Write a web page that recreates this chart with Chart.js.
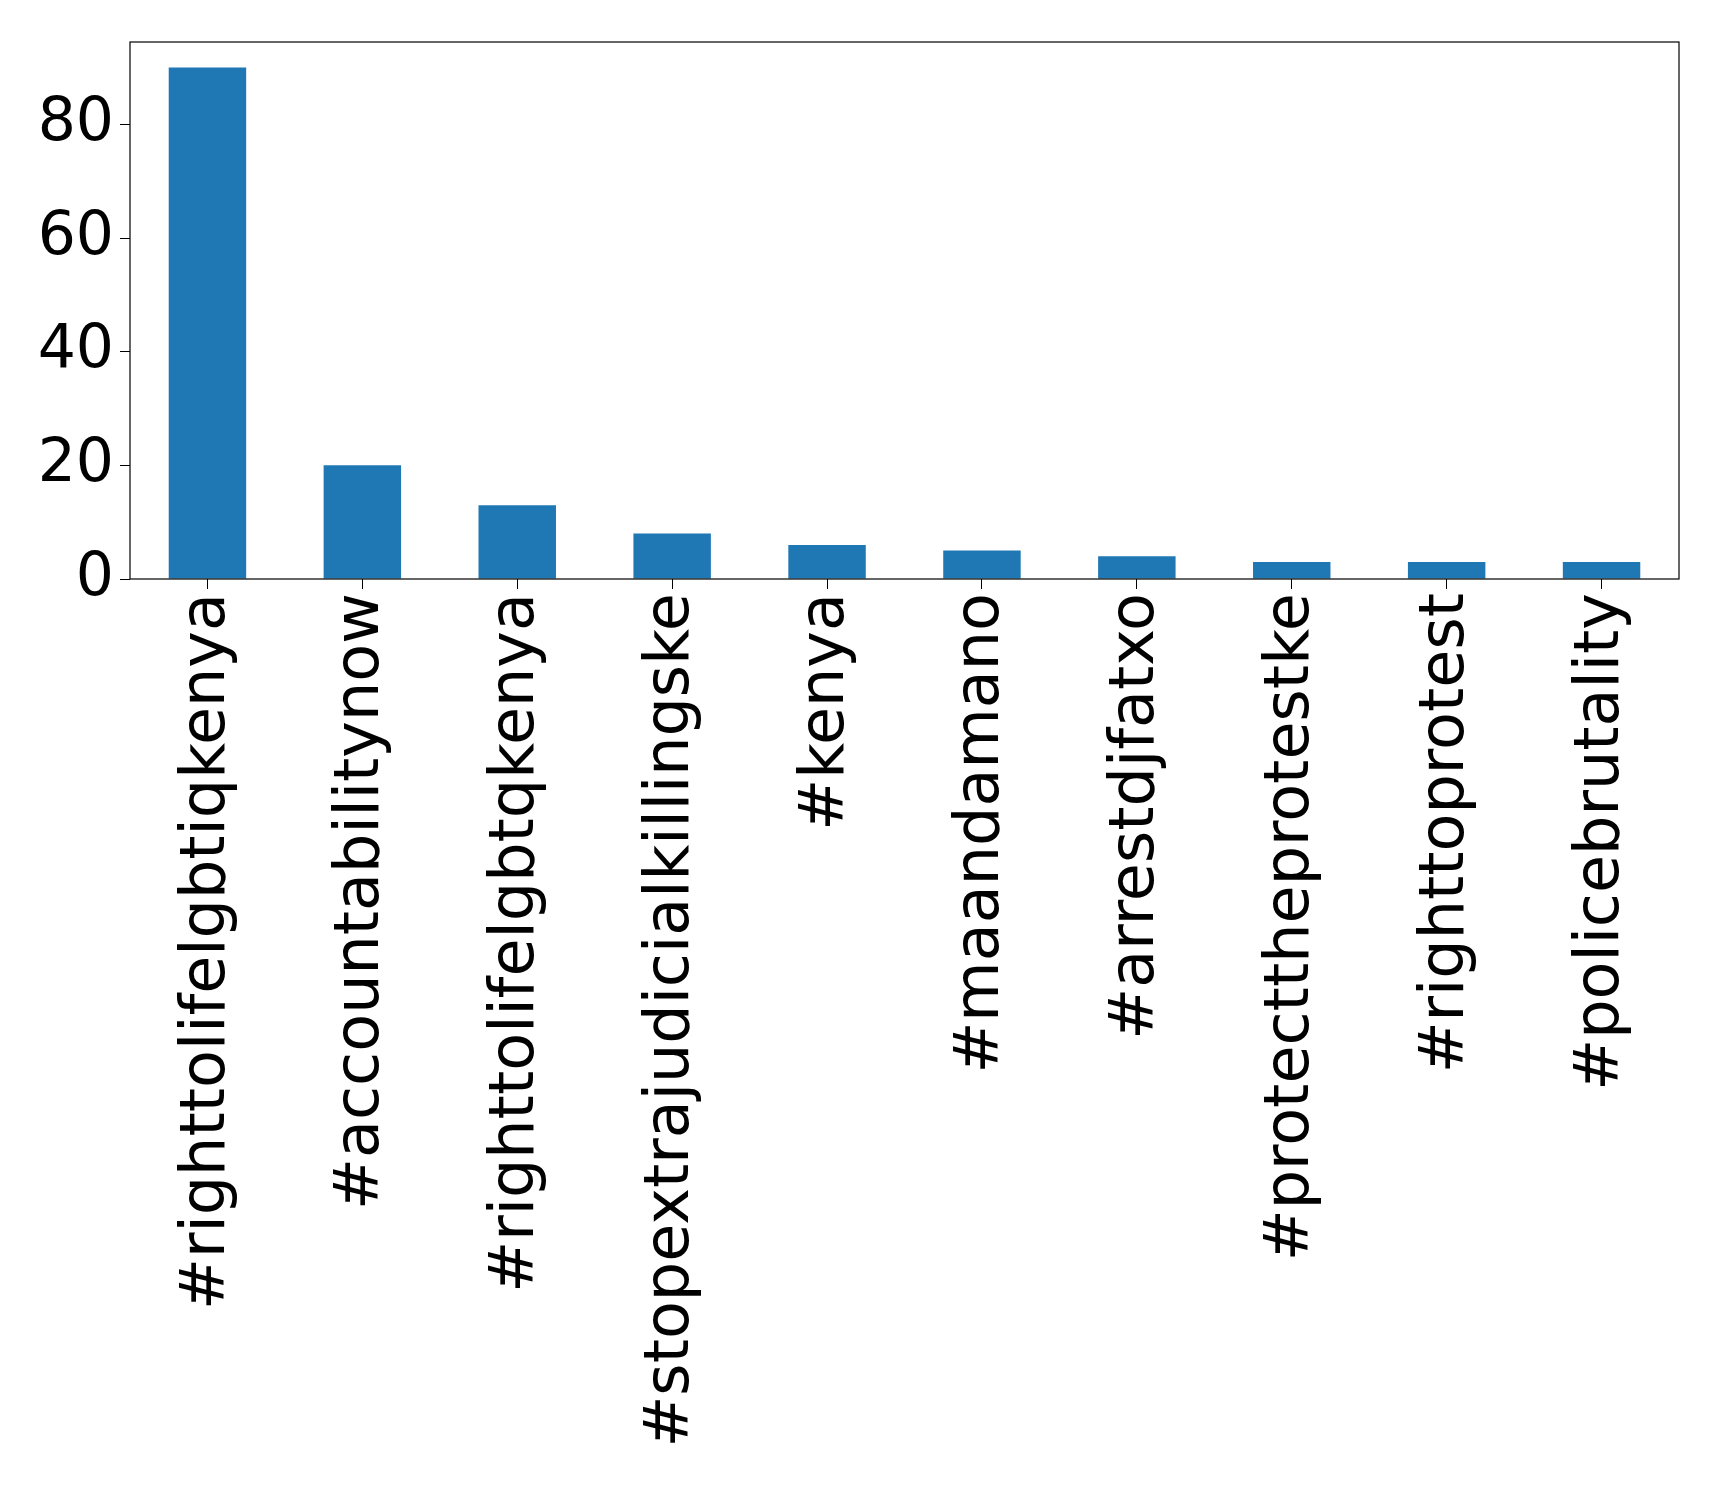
<!DOCTYPE html>
<html><head><meta charset="utf-8">
<script src="https://cdn.jsdelivr.net/npm/chart.js@4/dist/chart.umd.min.js"></script>
<style>html,body{margin:0;padding:0;background:#fff}#w{width:1719px;height:1489px}</style>
</head><body><div id="w"><canvas id="c"></canvas></div>
<script>
const categories = ["#righttolifelgbtiqkenya","#accountabilitynow","#righttolifelgbtqkenya","#stopextrajudicialkillingske","#kenya","#maandamano","#arrestdjfatxo","#protecttheprotestke","#righttoprotest","#policebrutality"];
const counts = [90,20,13,8,6,5,4,3,3,3];
const yTicks = [0,20,40,60,80];
const frame = {id:'frame',afterDraw(ch){const a=ch.chartArea,c=ch.ctx;c.save();c.strokeStyle='#000';c.lineWidth=1.2;c.strokeRect(a.left,a.top,a.right-a.left,a.bottom-a.top);c.restore();}};
new Chart(document.getElementById('c'),{
 type:'bar',
 data:{labels:categories,datasets:[{data:counts,backgroundColor:'#1f77b4',barPercentage:0.5,categoryPercentage:1}]},
 options:{responsive:true,maintainAspectRatio:false,animation:false,
  layout:{padding:{top:40,right:40,left:0,bottom:0}},
  plugins:{legend:{display:false},tooltip:{enabled:false}},
  scales:{
   x:{grid:{display:true,drawOnChartArea:false,offset:false,tickLength:10,color:'#000'},border:{display:false},
      ticks:{color:'#000',maxRotation:90,minRotation:90,autoSkip:false,font:{family:'DejaVu Sans',size:62},padding:4},
      afterFit(s){s.height=910;}},
   y:{min:0,max:94.5,grid:{display:true,drawOnChartArea:false,tickLength:10,color:'#000'},border:{display:false},
      afterBuildTicks(s){s.ticks=yTicks.map(v=>({value:v}));},
      ticks:{color:'#000',font:{family:'DejaVu Sans',size:60},padding:6},
      afterFit(s){s.width=130;}}
  }},
 plugins:[frame]
});
</script></body></html>
